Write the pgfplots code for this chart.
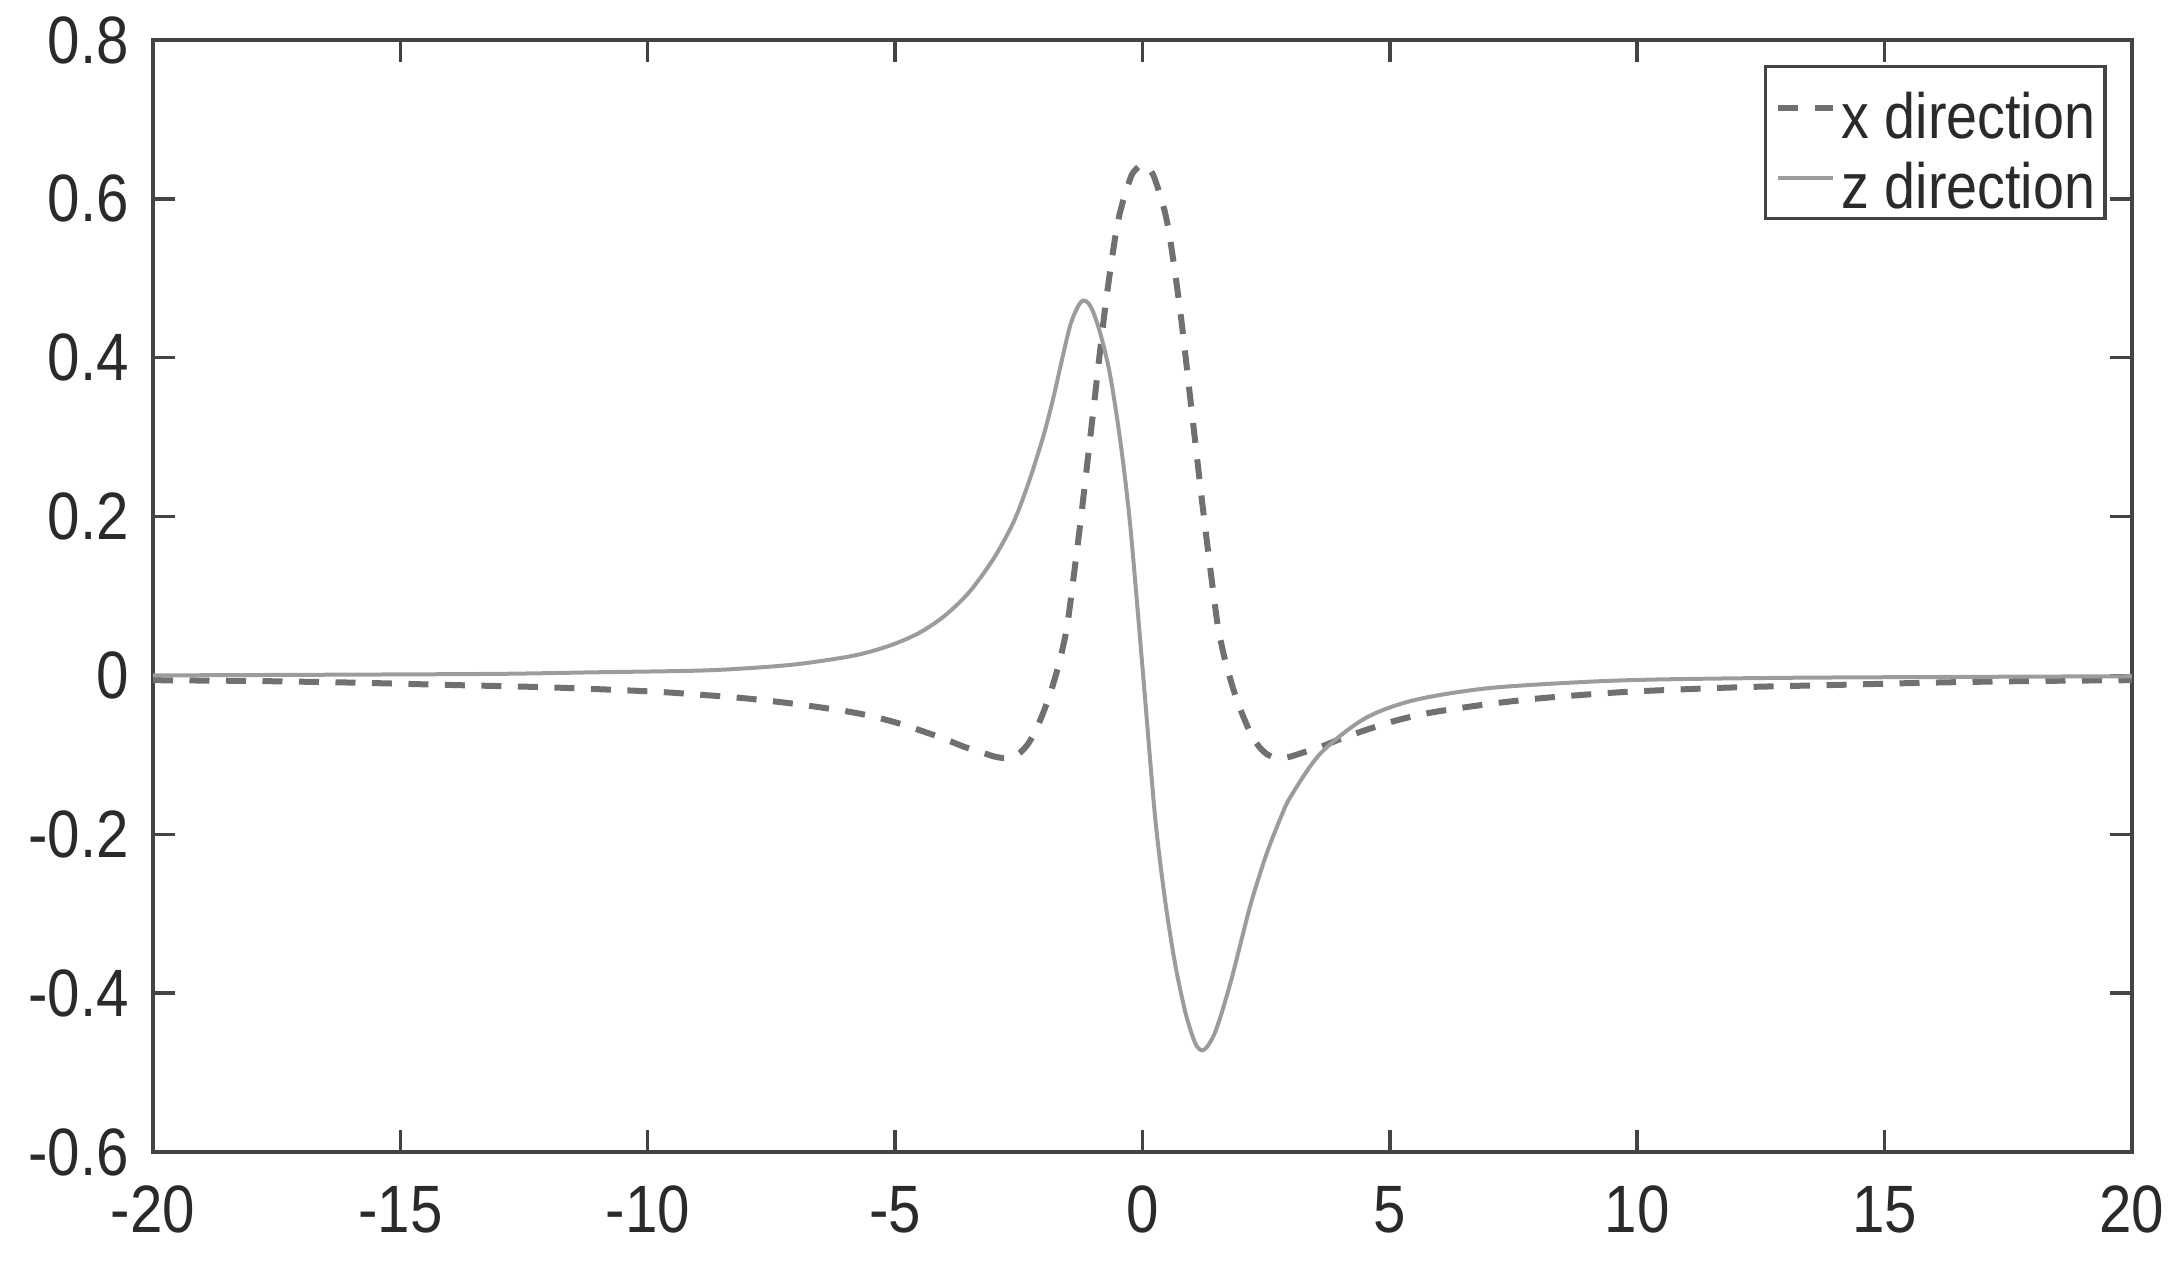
\documentclass[border=0pt]{standalone}
\usepackage{fontspec}
\setmainfont{Liberation Sans}[FakeStretch=0.87]
\usepackage{pgfplots}
\pgfplotsset{compat=1.18}
\definecolor{axgray}{HTML}{444444}
\definecolor{txtgray}{HTML}{2A2A2A}
\definecolor{xcol}{HTML}{707070}
\definecolor{zcol}{HTML}{9C9C9C}

\begin{document}
\begin{tikzpicture}
\begin{axis}[
  scale only axis, width=395.8pt, height=222.4pt,
  xmin=-20, xmax=20, ymin=-0.6, ymax=0.8,
  xtick={-20,-15,-10,-5,0,5,10,15,20},
  xticklabels={-20,-15,-10,-5,0,5,10,15,20},
  ytick={-0.6,-0.4,-0.2,0,0.2,0.4,0.6,0.8},
  yticklabels={-0.6,-0.4,-0.2,0,0.2,0.4,0.6,0.8},
  tick align=inside, major tick length=4.4pt,
  axis line style={axgray, line width=0.7pt},
  every tick/.style={axgray, line width=0.7pt},
  tick label style={font=\fontsize{13.4}{14}\selectfont, text=txtgray, inner sep=0pt},
  xticklabel style={yshift=-6.6pt, anchor=north},
  yticklabel style={xshift=-4.6pt, anchor=east},
  legend cell align=left,
  legend style={at={(1,1)}, anchor=north east, xshift=-5pt, yshift=-5pt,
    draw=axgray, line width=0.7pt, fill=white, inner xsep=2pt, inner ysep=2pt,
    row sep=1.6pt, column sep=1pt, font=\fontsize{12.8}{14}\selectfont, text=txtgray,
    nodes={inner sep=0pt, text height=12.4pt, text depth=0pt}},
  legend image code/.code={\draw[#1] (0pt,0pt) -- (11pt,0pt);},
]
\coordinate (sw) at (rel axis cs:0,0);
\coordinate (ne) at (rel axis cs:1,1);
% x direction (dashed)
\addplot[xcol, line width=1.2pt, dash pattern=on 4pt off 3.3pt, smooth] coordinates {
 (-20,-0.006) (-18,-0.007) (-16,-0.009) (-14,-0.012) (-12,-0.015) (-10,-0.020)
 (-9,-0.024) (-8,-0.029) (-7,-0.036) (-6,-0.045) (-5.5,-0.051) (-5,-0.059)
 (-4.5,-0.069) (-4,-0.080) (-3.6,-0.090) (-3.2,-0.098) (-3.0,-0.102) (-2.8,-0.104)
 (-2.6,-0.102) (-2.45,-0.096) (-2.3,-0.085) (-2.15,-0.068) (-2.0,-0.046) (-1.85,-0.020)
 (-1.7,0.012) (-1.6,0.038) (-1.5,0.072) (-1.25,0.195) (-1.0,0.33) (-0.75,0.465)
 (-0.5,0.57) (-0.25,0.625) (-0.12,0.638) (0,0.643) (0.12,0.638)
 (0.25,0.625) (0.5,0.57) (0.75,0.465) (1.0,0.33) (1.25,0.195) (1.5,0.072)
 (1.6,0.038) (1.7,0.012) (1.85,-0.020) (2.0,-0.046) (2.15,-0.068) (2.3,-0.085)
 (2.45,-0.096) (2.6,-0.102) (2.8,-0.104) (3.0,-0.102) (3.2,-0.098) (3.6,-0.090)
 (4,-0.080) (4.5,-0.069) (5,-0.059) (5.5,-0.051) (6,-0.045) (7,-0.036)
 (8,-0.029) (9,-0.024) (10,-0.020) (12,-0.015) (14,-0.012) (16,-0.009)
 (18,-0.007) (20,-0.006)
};
\addlegendentry{x direction}
% z direction (solid)
\addplot[zcol, line width=0.8pt, smooth] coordinates {
 (-20,0.000) (-16,0.001) (-13,0.002) (-11,0.004) (-9,0.006) (-8,0.009)
 (-7,0.014) (-6,0.023) (-5.5,0.030) (-5,0.040) (-4.5,0.054) (-4,0.075)
 (-3.5,0.105) (-3,0.148) (-2.6,0.194) (-2.3,0.243) (-2.0,0.302) (-1.8,0.350)
 (-1.6,0.405) (-1.45,0.443) (-1.3,0.465) (-1.2,0.472) (-1.1,0.469) (-1.0,0.458)
 (-0.85,0.43) (-0.66,0.38) (-0.45,0.296) (-0.25,0.190) (0,0.01) (0.25,-0.175)
 (0.45,-0.28) (0.65,-0.36) (0.85,-0.42) (1.0,-0.452) (1.1,-0.467) (1.2,-0.472)
 (1.3,-0.468) (1.45,-0.452) (1.6,-0.425) (1.8,-0.382) (2.0,-0.333) (2.2,-0.285)
 (2.5,-0.226) (2.8,-0.178) (3.0,-0.152) (3.6,-0.098) (4.5,-0.054) (5.5,-0.031)
 (7,-0.016) (9,-0.008) (10.5,-0.005) (13,-0.003) (16,-0.002) (20,-0.001)
};
\addlegendentry{z direction}
\end{axis}
\pgfresetboundingbox
\path[use as bounding box] ([shift={(-30.6pt,-21.6pt)}]sw) rectangle ([shift={(9.8pt,8pt)}]ne);
\end{tikzpicture}
\end{document}
